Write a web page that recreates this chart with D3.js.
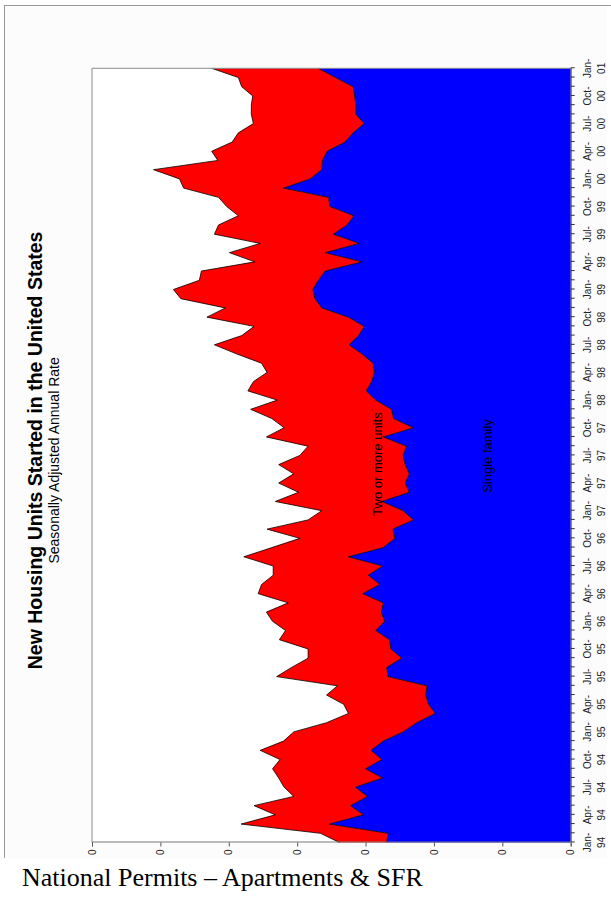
<!DOCTYPE html>
<html>
<head>
<meta charset="utf-8">
<script src="https://cdn.jsdelivr.net/npm/d3@7"></script>
<style>
  html, body { margin: 0; padding: 0; background: #ffffff; }
  svg { display: block; }
</style>
</head>
<body>
<svg id="chart" width="611" height="903"></svg>
<script>
// ---------------- DATA ----------------
const years = ["94","95","96","97","98","99","00","01"];
const monthNames = ["Jan","Feb","Mar","Apr","May","Jun","Jul","Aug","Sep","Oct","Nov","Dec"];
// monthly categories Jan-94 .. Jan-01
const months = [];
for (let yi = 0; yi < years.length; yi++) {
  for (let m = 0; m < 12; m++) {
    if (yi === years.length - 1 && m > 0) break;
    months.push(monthNames[m] + "-" + years[yi]);
  }
}
// Single family (lower band)
const singleFamily = [
  269,267,353,303,322,297,315,275,300,276,292,274,
  245,225,198,208,212,210,267,269,247,263,265,285,
  272,277,274,304,279,296,275,325,274,257,260,230,
  245,276,236,242,236,242,245,240,274,230,259,262,
  285,299,291,287,289,305,324,310,302,325,364,374,
  377,369,359,305,359,309,347,327,317,352,354,420,
  381,364,363,356,330,318,302,314,314,316,318,344,
  369
];
// Two or more units (stacked on top)
const multiUnit = [
  69,99,129,129,141,108,104,152,136,149,162,146,
  160,132,127,124,145,131,163,139,137,121,161,132,
  164,168,139,153,173,139,160,153,163,139,184,154,
  119,156,162,185,169,185,151,144,171,189,178,206,
  144,173,173,157,163,183,197,171,161,207,141,196,
  204,174,181,157,140,145,174,188,169,151,161,146,
  191,246,153,169,165,168,162,153,153,149,163,142,
  156
];
const valueTicks = [0,100,200,300,400,500,600,700];
const valueTickLabels = ["0","0","0","0","0","0","0","0"];
const seriesNames = ["Single family","Two or more units"];
const seriesColors = ["#0000ff","#ff0000"];

// ---------------- LAYOUT ----------------
const svg = d3.select("#chart");
const W = 774.2;   // time-axis length (drawn vertically after rotation)
const H = 478.7;   // value-axis length
const originX = 92, originY = 842.5;

// outer chart picture background and frame
svg.append("rect").attr("x",4).attr("y",5).attr("width",603).attr("height",853).attr("fill","#fcfcfc");
svg.append("line").attr("x1",4.5).attr("y1",5).attr("x2",4.5).attr("y2",858).attr("stroke","#9a9a9a");
svg.append("line").attr("x1",4).attr("y1",5.5).attr("x2",611).attr("y2",5.5).attr("stroke","#9a9a9a");

const g = svg.append("g").attr("transform", `translate(${originX},${originY}) rotate(-90)`);

const x = d3.scalePoint().domain(months).range([0, W]);
const y = d3.scaleLinear().domain([0, 700]).range([H, 0]);

// plot background
g.append("rect").attr("x",0).attr("y",0).attr("width",W).attr("height",H).attr("fill","#ffffff");

const rows = months.map((m,i) => ({month:m, single:singleFamily[i], multi:multiUnit[i]}));
const stack = d3.stack().keys(["single","multi"]);
const layers = stack(rows);

const area = d3.area()
  .x(d => x(d.data.month))
  .y0(d => y(d[0]))
  .y1(d => y(d[1]));

g.selectAll("path.layer").data(layers).join("path")
  .attr("class","layer")
  .attr("d", area)
  .attr("fill", (d,i) => seriesColors[i]);

// outlines of the boundaries
const line = d3.line().x(d => x(d.data.month)).y(d => y(d[1]));
g.selectAll("path.edge").data(layers).join("path")
  .attr("class","edge")
  .attr("d", line)
  .attr("fill","none")
  .attr("stroke","#000")
  .attr("stroke-width",0.8);

// plot border (top & right in local frame)
g.append("line").attr("x1",0).attr("y1",0).attr("x2",W).attr("y2",0).attr("stroke","#8c8c8c").attr("stroke-width",1);
g.append("line").attr("x1",W).attr("y1",0).attr("x2",W).attr("y2",H).attr("stroke","#8c8c8c").attr("stroke-width",1);

// time axis
const xAxis = d3.axisBottom(x).tickSize(4).tickSizeOuter(0).tickFormat(() => "");
const xg = g.append("g").attr("transform", `translate(0,${H})`).call(xAxis);
xg.select(".domain").attr("stroke","#555");
xg.selectAll(".tick line").attr("stroke","#333");
xg.selectAll(".tick text").remove();
months.forEach((m,i) => {
  if (i % 3 !== 0) return;
  const parts = m.split("-");
  const t = g.append("text")
    .attr("text-anchor","middle")
    .attr("font-family","'Liberation Sans', Arial, sans-serif")
    .attr("font-size","10px")
    .attr("fill","#222");
  t.append("tspan").attr("x", x(m)).attr("y", H + 20).text(parts[0] + "-");
  t.append("tspan").attr("x", x(m)).attr("y", H + 34).text(parts[1]);
});

// value axis
const yAxis = d3.axisLeft(y).tickValues(valueTicks).tickSize(4).tickPadding(3)
  .tickFormat((d,i) => valueTickLabels[i]);
const yg = g.append("g").call(yAxis);
yg.select(".domain").attr("stroke","#777");
yg.selectAll(".tick line").attr("stroke","#555");
yg.selectAll(".tick text")
  .attr("font-family","'Liberation Sans', Arial, sans-serif")
  .attr("font-size","10px")
  .attr("fill","#222");

// titles
g.append("text").attr("x", W/2 + 5).attr("y", -50).attr("text-anchor","middle")
  .attr("font-family","'Liberation Sans', Arial, sans-serif").attr("font-weight","bold")
  .attr("font-size","19.5px").attr("fill","#000")
  .text("New Housing Units Started in the United States");
g.append("text").attr("x", W/2 - 5).attr("y", -33).attr("text-anchor","middle")
  .attr("font-family","'Liberation Sans', Arial, sans-serif")
  .attr("font-size","14px").attr("fill","#000")
  .text("Seasonally Adjusted Annual Rate");

// series labels
g.append("text").attr("x", 378.5).attr("y", 290).attr("text-anchor","middle")
  .attr("font-family","'Liberation Sans', Arial, sans-serif").attr("font-size","13px").attr("fill","#000")
  .text(seriesNames[1]);
g.append("text").attr("x", 386.5).attr("y", 400).attr("text-anchor","middle")
  .attr("font-family","'Liberation Sans', Arial, sans-serif").attr("font-size","13px").attr("fill","#000")
  .text(seriesNames[0]);

// caption
svg.append("text").attr("x", 22).attr("y", 886)
  .attr("font-family","'Liberation Serif', 'Times New Roman', serif")
  .attr("font-size","26px").attr("fill","#000")
  .text("National Permits \u2013 Apartments & SFR");
</script>
</body>
</html>
